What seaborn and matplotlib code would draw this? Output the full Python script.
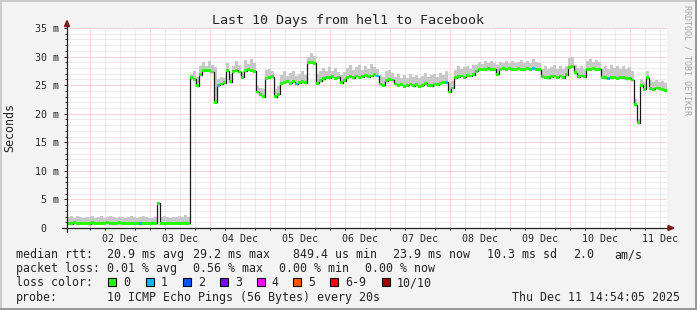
import numpy as np
import pandas as pd
import matplotlib
matplotlib.use("Agg")
import matplotlib.pyplot as plt
from matplotlib.lines import Line2D
from matplotlib.patches import Rectangle, Polygon
import seaborn as sns

# ---------------- data ----------------
title = "Last 10 Days from hel1 to Facebook"
y_label = "Seconds"
y_ticks = [0, 5, 10, 15, 20, 25, 30, 35]
y_tick_labels = ["0  ", "5 m", "10 m", "15 m", "20 m", "25 m", "30 m", "35 m"]
x_tick_days = [2, 3, 4, 5, 6, 7, 8, 9, 10, 11]
x_tick_labels = ["02 Dec", "03 Dec", "04 Dec", "05 Dec", "06 Dec",
                 "07 Dec", "08 Dec", "09 Dec", "10 Dec", "11 Dec"]

start_day = 1.6209          # Dec 1 14:54:05 (day-of-month units)
end_day = 11.6209           # Dec 11 14:54:05
step_day = 0.05             # one RRD row = 1.2 h

# median rtt in ms, one value per RRD row
median_ms = [
    0.80, 0.78, 0.92, 0.82, 0.79, 0.80, 0.81, 0.78, 0.92, 0.82,
    0.80, 0.79, 0.80, 0.92, 0.80, 0.78, 0.80, 0.92, 0.79, 0.80,
    0.81, 0.80, 0.79, 0.80, 0.78, 0.80, 0.81, 0.80, 0.79, 0.80,
    4.30, 0.80, 0.79, 0.81, 0.80, 0.80, 0.79, 0.81, 0.80, 0.80,
    0.82,
    26.3, 26.0, 24.9, 26.8, 27.5, 27.6, 27.5, 27.3, 22.0, 25.0,
    25.2, 25.4, 27.5, 25.6, 27.4, 27.6, 27.3, 26.4, 27.5, 27.7,
    27.6, 27.4, 23.8, 23.3, 23.0, 26.2, 26.4, 26.5, 23.0, 23.4,
    25.3, 25.5, 25.6, 25.3, 25.6, 25.2, 25.4, 25.6, 25.4, 28.9,
    29.0, 28.8, 25.3, 25.8, 26.1, 26.4, 26.3, 26.5, 26.2, 26.4,
    25.4, 25.8, 26.4, 26.5, 26.3, 26.6, 26.4, 26.5, 26.7, 26.5,
    26.6, 26.8, 26.6, 25.2, 25.0, 25.8, 26.0, 25.9, 25.2, 25.0,
    25.1, 24.8, 25.0, 25.2, 24.9, 25.1, 24.8, 25.0, 25.3, 25.0,
    24.9, 25.2, 25.1, 25.3, 25.4, 25.5, 23.8, 24.5, 26.3, 26.5,
    26.6, 26.4, 26.7, 26.6, 26.8, 27.4, 27.8, 27.8, 27.8, 27.9,
    27.8, 27.8, 26.9, 27.8, 27.9, 27.8, 27.9, 27.8, 27.8, 27.9,
    27.8, 27.8, 27.9, 27.8, 27.9, 27.8, 27.7, 26.5, 26.4, 26.3,
    26.5, 26.6, 26.4, 26.6, 26.3, 26.8, 28.1, 28.3, 27.2, 26.5,
    26.6, 26.5, 27.8, 27.8, 27.9, 27.8, 27.8, 26.4, 26.3, 26.2,
    26.3, 26.4, 26.2, 26.4, 26.3, 26.1, 26.2, 25.9, 21.6, 18.4,
    25.0, 24.3, 26.3, 24.4, 24.3, 24.5, 24.4, 24.3, 24.0,
]

# top of the smoke (slowest ping) in ms
smoke_top_ms = [
    1.85, 2.05, 1.80, 2.10, 1.90, 1.80, 2.00, 1.85, 2.05, 1.80,
    1.95, 2.10, 1.80, 1.90, 2.15, 1.85, 1.80, 2.00, 1.90, 1.80,
    1.95, 2.10, 1.85, 1.80, 1.95, 2.05, 1.90, 1.80, 1.75, 1.85,
    4.40, 1.90, 2.05, 1.85, 1.80, 2.00, 1.90, 2.05, 1.95, 2.20,
    1.95,
    27.0, 27.4, 26.5, 28.3, 29.0, 28.4, 29.2, 28.6, 28.2, 26.0,
    26.5, 26.2, 28.8, 27.0, 28.4, 29.3, 28.6, 27.5, 29.4, 28.7,
    29.6, 28.8, 24.8, 24.5, 24.3, 27.6, 27.9, 27.4, 24.4, 24.8,
    26.8, 27.4, 26.6, 27.1, 27.5, 26.6, 27.0, 27.4, 26.8, 30.0,
    30.6, 30.1, 26.9, 27.4, 28.0, 27.4, 28.2, 27.5, 28.0, 27.3,
    26.8, 27.3, 28.0, 28.5, 27.6, 28.1, 28.6, 27.7, 28.3, 27.8,
    28.7, 28.1, 27.8, 26.7, 26.5, 27.4, 27.7, 27.1, 26.4, 26.9,
    26.3, 26.8, 26.2, 27.0, 26.4, 26.8, 26.3, 26.6, 27.1, 26.4,
    26.7, 27.0, 26.5, 27.2, 26.7, 27.4, 25.3, 25.8, 27.6, 28.3,
    27.8, 28.1, 28.4, 27.9, 28.5, 28.6, 29.1, 28.7, 29.3, 28.8,
    29.2, 28.9, 28.5, 29.1, 28.8, 29.3, 28.9, 29.2, 28.8, 29.0,
    29.4, 28.9, 29.2, 28.8, 29.5, 29.0, 28.9, 27.9, 28.4, 27.8,
    28.2, 28.5, 27.9, 28.3, 27.8, 28.4, 29.7, 29.9, 28.6, 28.0,
    28.4, 27.9, 29.3, 29.5, 29.1, 29.4, 29.0, 27.9, 28.4, 27.8,
    28.5, 28.0, 28.3, 27.9, 28.4, 27.8, 28.2, 27.5, 22.5, 19.0,
    26.0, 25.6, 27.4, 25.9, 25.6, 25.9, 25.5, 25.8, 25.3,
]

# rows where packet loss was not 0 (row index, loss class)
loss_rows = [24, 50, 76, 103, 126, 155, 180]
loss_rows_class = [1, 1, 1, 1, 1, 1, 1]

loss_labels = ["0", "1", "2", "3", "4", "5", "6-9", "10/10"]
loss_colors = ["#26ff00", "#00b8ff", "#0059ff", "#7e00ff",
               "#ff00ff", "#ff5500", "#ff0000", "#a10000"]

legend_rows = [
    [("median rtt:", 16), ("20.9 ms avg", 107.3), ("29.2 ms max", 193.3),
     ("849.4 us min", 293.3), ("23.9 ms now", 393.3), ("10.3 ms sd", 486.7),
     ("2.0", 572.7), ("am/s", 614.3)],
    [("packet loss:", 16), ("0.01 % avg", 107.3), ("0.56 % max", 193.3),
     ("0.00 % min", 279.3), ("0.00 % now", 365.0)],
]
loss_box_x = [108.3, 145.7, 182.7, 220.0, 256.7, 293.3, 330.0, 381.7]
probe_text = "10 ICMP Echo Pings (56 Bytes) every 20s"
date_text = "Thu Dec 11 14:54:05 2025"
credit_text = "RRDTOOL / TOBI OETIKER"

# ---------------- styling ----------------
W, H = 697, 310
BACK = "#f3f3f3"
AXIS = "#202020"
ARROW = "#7f1a1a"
MGRID = "#f3b0b0"
GRID = "#d9d9d9"

sns.set_style("white")
plt.rcParams["font.family"] = ["DejaVu Sans Mono"]

fig = plt.figure(figsize=(W / 100, H / 100), dpi=100, facecolor=BACK)


def fx(x):
    return x / W


def fy(y):
    return 1 - y / H


ax = fig.add_axes([fx(67), fy(228), 600 / W, 200 / H])
ax.set_facecolor("white")
for s in ax.spines.values():
    s.set_visible(False)

n = len(median_ms)
edges = start_day + step_day * np.arange(n + 1)
med = np.array(median_ms)
top = np.array(smoke_top_ms)

# grid (dotted, beneath the data)
dot = (0, (1, 1))
for d in np.arange(2.0, 11.51, 0.25):
    major = abs(d - round(d)) < 1e-6
    ax.axvline(d, color=MGRID if major else GRID, lw=0.72,
               ls=dot, zorder=1, snap=True)
for v in range(1, 36):
    major = v % 5 == 0
    ax.axhline(v, color=MGRID if major else GRID, lw=0.72,
               ls=dot, zorder=1, snap=True)

# smoke
ax.stairs(top, edges, baseline=med, fill=True, color="#c8c8c8", lw=0,
          zorder=2)

# black median line (seaborn)
df = pd.DataFrame({"t": edges, "median": np.append(med, med[-1])})
sns.lineplot(data=df, x="t", y="median", drawstyle="steps-post",
             color="#1a1a1a", lw=0.9, ax=ax, estimator=None, sort=False,
             zorder=3)

# loss-coloured median band
cls = np.zeros(n, dtype=int)
for r, c in zip(loss_rows, loss_rows_class):
    cls[r] = c
band = 0.5
ax.bar(edges[:-1], band, bottom=med - band / 2, width=step_day, align="edge",
       color=[loss_colors[c] for c in cls], linewidth=0, antialiased=False,
       zorder=4)

ax.set_xlim(start_day, end_day)
ax.set_ylim(0, 35)
ax.set_xlabel("")
ax.set_ylabel("")

# ticks
ax.set_xticks([d + 0.5 for d in x_tick_days])
ax.set_xticklabels(x_tick_labels)
ax.set_xticks(np.arange(2.0, 11.51, 0.25), minor=True)
ax.tick_params(axis="x", which="major", length=0, pad=4.0, labelsize=7.2)
ax.tick_params(axis="x", which="minor", length=1.5, width=0.72,
               color=AXIS, direction="out", bottom=True)
ax.set_yticks(y_ticks)
ax.set_yticklabels(y_tick_labels)
ax.set_yticks(range(0, 36), minor=True)
ax.tick_params(axis="y", which="major", length=2.2, width=0.72, color=AXIS,
               direction="out", pad=3.4, labelsize=7.2, left=True)
ax.tick_params(axis="y", which="minor", length=1.4, width=0.72, color=AXIS,
               direction="out", left=True)

# axes lines and arrows
fig.add_artist(Line2D([fx(62), fx(668)], [fy(228), fy(228)], color=AXIS,
                      lw=0.9, transform=fig.transFigure, zorder=10))
fig.add_artist(Line2D([fx(67), fx(67)], [fy(232), fy(26)], color=AXIS,
                      lw=0.9, transform=fig.transFigure, zorder=10))
fig.add_artist(Polygon([[fx(668), fy(225.5)], [fx(674), fy(228)],
                        [fx(668), fy(230.5)]], closed=True, color=ARROW,
                       transform=fig.transFigure, zorder=11))
fig.add_artist(Polygon([[fx(64.5), fy(26.5)], [fx(67), fy(20.5)],
                        [fx(69.5), fy(26.5)]], closed=True, color=ARROW,
                       transform=fig.transFigure, zorder=11))

# frame
fig.add_artist(Rectangle((0, fy(2)), 1, fy(0) - fy(2), color="#cbcbcb",
                         transform=fig.transFigure, lw=0))
fig.add_artist(Rectangle((0, 0), fx(2), 1, color="#cbcbcb",
                         transform=fig.transFigure, lw=0))
fig.add_artist(Rectangle((0, 0), 1, 1 - fy(2), color="#999999",
                         transform=fig.transFigure, lw=0))
fig.add_artist(Rectangle((fx(695), 0), fx(2), 1, color="#999999",
                         transform=fig.transFigure, lw=0))

# texts
fig.text(fx(348), fy(24), title, ha="center", va="baseline", fontsize=9.6)
fig.text(fx(10), fy(128), y_label, rotation=90, ha="center", va="center",
         fontsize=8.4)
fig.text(fx(687.5), fy(5), credit_text, rotation=-90, ha="center", va="top",
         fontsize=6.0, color="#a8a8a8")

FS = 8.4
baselines = [258.0, 272.3, 286.5, 300.7]
for row, yb in zip(legend_rows, baselines[:2]):
    for txt, x in row:
        fig.text(fx(x), fy(yb), txt, ha="left", va="baseline", fontsize=FS)

fig.text(fx(16), fy(baselines[2]), "loss color:", ha="left", va="baseline",
         fontsize=FS)
for bx, lab, col in zip(loss_box_x, loss_labels, loss_colors):
    fig.add_artist(Rectangle((fx(bx), fy(285.5)), 8 / W, 8 / H,
                             facecolor=col, edgecolor="black", lw=0.8,
                             transform=fig.transFigure))
    fig.text(fx(bx + 15), fy(baselines[2]), lab, ha="left", va="baseline",
             fontsize=FS)

fig.text(fx(16), fy(baselines[3]), "probe:", ha="left", va="baseline",
         fontsize=FS)
fig.text(fx(107.3), fy(baselines[3]), probe_text, ha="left", va="baseline",
         fontsize=FS)
fig.text(fx(680), fy(baselines[3]), date_text, ha="right", va="baseline",
         fontsize=FS)

fig.savefig("out.png", dpi=100, facecolor=BACK)
